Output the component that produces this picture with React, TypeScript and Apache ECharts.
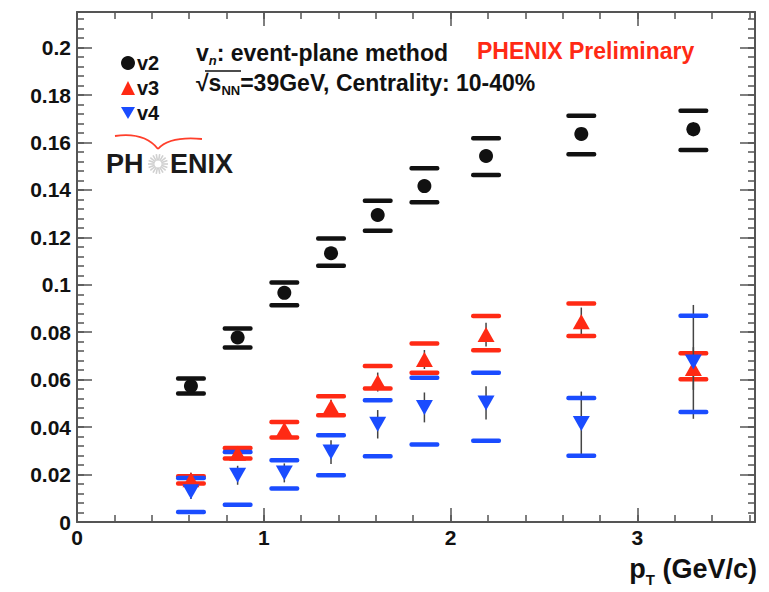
import React, { useEffect, useRef } from 'react';
import * as echarts from 'echarts';

// ---- data ----
const ptValues = [0.61, 0.86, 1.11, 1.36, 1.61, 1.86, 2.19, 2.7, 3.3];

const v2Values = [0.0573, 0.0778, 0.0966, 0.1133, 0.1294, 0.1416, 0.1543, 0.1636, 0.1656];
const v2SysLow = [0.0542, 0.0736, 0.0914, 0.108, 0.1228, 0.1348, 0.1463, 0.155, 0.1568];
const v2SysHigh = [0.0605, 0.0816, 0.101, 0.1195, 0.1354, 0.1491, 0.1618, 0.1713, 0.1734];
const v2Stat = [0.0015, 0.0015, 0.0015, 0.0015, 0.0015, 0.002, 0.002, 0.002, 0.003];

const v3Values = [0.0178, 0.029, 0.039, 0.0485, 0.059, 0.0685, 0.079, 0.0844, 0.0647];
const v3SysLow = [0.0162, 0.0268, 0.0356, 0.045, 0.0563, 0.0629, 0.0724, 0.0784, 0.0602];
const v3SysHigh = [0.0193, 0.0312, 0.0422, 0.053, 0.0658, 0.0753, 0.0868, 0.0921, 0.0711];
const v3Stat = [0.003, 0.003, 0.003, 0.003, 0.004, 0.004, 0.005, 0.006, 0.009];

const v4Values = [0.0127, 0.0197, 0.0207, 0.0295, 0.0412, 0.0483, 0.0502, 0.0415, 0.0675];
const v4SysLow = [0.0042, 0.0073, 0.0141, 0.0197, 0.0277, 0.0327, 0.0342, 0.0279, 0.0464];
const v4SysHigh = [0.0186, 0.0295, 0.026, 0.0366, 0.0513, 0.0608, 0.0629, 0.0523, 0.0869];
const v4Stat = [0.003, 0.004, 0.004, 0.005, 0.006, 0.0063, 0.007, 0.0135, 0.024];

const seriesNames = ['v2', 'v3', 'v4'];
const X_MIN = 0;
const X_MAX = 3.63;
const Y_MIN = 0;
const Y_MAX = 0.215;

const BLACK = '#111111';
const RED = '#ff2a14';
const BLUE = '#1a4cff';
const AXIS = '#555555';
const FONT = "'Liberation Sans', Arial, Helvetica, sans-serif";
const DOWN_TRI = 'path://M0,0L20,0L10,17.3Z';

function buildErr(vals: number[], lo: number[], hi: number[], stat: number[]) {
  return ptValues.map((x, i) => [x, vals[i], lo[i], hi[i], vals[i] - stat[i], vals[i] + stat[i]]);
}

function errSeries(name: string, color: string, data: number[][]) {
  return {
    type: 'custom',
    name,
    xAxisIndex: 0,
    yAxisIndex: 0,
    data,
    encode: { x: 0, y: 1 },
    renderItem: (_p: any, api: any) => {
      const x = api.value(0);
      const pLo = api.coord([x, api.value(2)]);
      const pHi = api.coord([x, api.value(3)]);
      const sLo = api.coord([x, api.value(4)]);
      const sHi = api.coord([x, api.value(5)]);
      const w = 30;
      const h = 4.5;
      return {
        type: 'group',
        children: [
          {
            type: 'line',
            shape: { x1: sLo[0], y1: sLo[1], x2: sHi[0], y2: sHi[1] },
            style: { stroke: '#444', lineWidth: 1.5 },
          },
          {
            type: 'rect',
            shape: { x: pLo[0] - w / 2, y: pLo[1] - h / 2, width: w, height: h, r: 2 },
            style: { fill: color },
          },
          {
            type: 'rect',
            shape: { x: pHi[0] - w / 2, y: pHi[1] - h / 2, width: w, height: h, r: 2 },
            style: { fill: color },
          },
        ],
      };
    },
    z: 2,
  };
}

function markerSeries(name: string, color: string, symbol: string, size: any, vals: number[]) {
  return {
    type: 'scatter',
    name,
    xAxisIndex: 0,
    yAxisIndex: 0,
    symbol,
    symbolSize: size,
    itemStyle: { color, opacity: 1 },
    data: ptValues.map((x, i) => [x, vals[i]]),
    z: 3,
  };
}

const fmt = (v: number) => String(+v.toFixed(3));

function makeXAxis(position: string, interval: number, len: number, main: boolean, labels: boolean) {
  return {
    type: 'value',
    min: X_MIN,
    max: X_MAX,
    interval,
    position,
    axisLine: { show: main, onZero: false, lineStyle: { color: AXIS, width: 2 } },
    axisTick: { show: true, inside: true, length: len, lineStyle: { color: AXIS, width: 1.5 } },
    axisLabel: labels
      ? { show: true, fontSize: 21, fontWeight: 'bold', fontFamily: FONT, color: BLACK, margin: 5, showMaxLabel: false, formatter: fmt }
      : { show: false },
    splitLine: { show: false },
  };
}

function makeYAxis(position: string, interval: number, len: number, main: boolean, labels: boolean) {
  return {
    type: 'value',
    min: Y_MIN,
    max: Y_MAX,
    interval,
    position,
    axisLine: { show: main, onZero: false, lineStyle: { color: AXIS, width: 2 } },
    axisTick: { show: true, inside: true, length: len, lineStyle: { color: AXIS, width: 1.5 } },
    axisLabel: labels
      ? { show: true, fontSize: 21, fontWeight: 'bold', fontFamily: FONT, color: BLACK, margin: 6, showMaxLabel: false, formatter: fmt }
      : { show: false },
    splitLine: { show: false },
  };
}

function sunburst(cx: number, cy: number) {
  const items: any[] = [];
  const n = 18;
  for (let k = 0; k < n; k++) {
    const a = (k / n) * Math.PI * 2;
    items.push({
      type: 'line',
      shape: { x1: cx + Math.cos(a) * 3.5, y1: cy + Math.sin(a) * 3.5, x2: cx + Math.cos(a) * 10, y2: cy + Math.sin(a) * 10 },
      style: { stroke: '#d0d0d0', lineWidth: 1.6 },
    });
  }
  return items;
}

export default function App() {
  const ref = useRef<HTMLDivElement>(null);
  useEffect(() => {
    if (!ref.current) return;
    const chart = echarts.init(ref.current, undefined, { renderer: 'svg' });
    const richMain = { fontSize: 23, fontWeight: 'bold', fontFamily: FONT, fill: BLACK, lineHeight: 26, verticalAlign: 'bottom' };
    const option: any = {
      animation: false,
      backgroundColor: '#ffffff',
      grid: { left: 77, top: 12, right: 14, bottom: 70, containLabel: false },
      xAxis: [
        makeXAxis('bottom', 1, 14, true, true),
        makeXAxis('bottom', 0.2, 7, false, false),
        makeXAxis('top', 1, 14, true, false),
        makeXAxis('top', 0.2, 7, false, false),
      ],
      yAxis: [
        makeYAxis('left', 0.02, 15, true, true),
        makeYAxis('left', 0.004, 7, false, false),
        makeYAxis('right', 0.02, 15, true, false),
        makeYAxis('right', 0.004, 7, false, false),
      ],
      legend: {
        orient: 'vertical',
        left: 116,
        top: 48,
        padding: 5,
        itemWidth: 14,
        itemHeight: 14,
        itemGap: 5,
        selectedMode: false,
        textStyle: { fontSize: 20, fontWeight: 'bold', fontFamily: FONT, color: BLACK, lineHeight: 14, padding: [2, 0, 0, -3] },
        data: [
          { name: seriesNames[0], icon: 'circle' },
          { name: seriesNames[1], icon: 'triangle' },
          { name: seriesNames[2], icon: DOWN_TRI },
        ],
      },
      series: [
        errSeries('v2 errors', BLACK, buildErr(v2Values, v2SysLow, v2SysHigh, v2Stat)),
        markerSeries(seriesNames[0], BLACK, 'circle', 14, v2Values),
        errSeries('v3 errors', RED, buildErr(v3Values, v3SysLow, v3SysHigh, v3Stat)),
        markerSeries(seriesNames[1], RED, 'triangle', [17, 15], v3Values),
        errSeries('v4 errors', BLUE, buildErr(v4Values, v4SysLow, v4SysHigh, v4Stat)),
        markerSeries(seriesNames[2], BLUE, DOWN_TRI, [17, 15], v4Values),
      ],
      graphic: [
        {
          type: 'text',
          x: 196,
          y: 51,
          style: {
            text: '{a|v}{s|n}{a|: event-plane method}',
            align: 'left',
            verticalAlign: 'middle',
            fontFamily: FONT,
            rich: {
              a: richMain,
              s: { fontSize: 13, fontWeight: 'bold', fontStyle: 'italic', fontFamily: FONT, fill: BLACK, lineHeight: 26, verticalAlign: 'bottom', padding: [0, 0, -3, 0] },
            },
          },
        },
        {
          type: 'text',
          x: 477,
          y: 51,
          style: { text: 'PHENIX Preliminary', align: 'left', verticalAlign: 'middle', fontSize: 23, fontWeight: 'bold', fontFamily: FONT, fill: RED },
        },
        {
          type: 'text',
          x: 196,
          y: 81,
          style: {
            text: '{a|√}{a|s}{s|NN}{a|=39GeV, Centrality: 10-40%}',
            align: 'left',
            verticalAlign: 'middle',
            fontFamily: FONT,
            rich: {
              a: richMain,
              s: { fontSize: 13, fontWeight: 'bold', fontFamily: FONT, fill: BLACK, lineHeight: 26, verticalAlign: 'bottom', padding: [0, 0, -3, 0] },
            },
          },
        },
        {
          type: 'line',
          shape: { x1: 205, y1: 71, x2: 241, y2: 71 },
          style: { stroke: BLACK, lineWidth: 1.3 },
        },
        // PHENIX logo
        {
          type: 'bezierCurve',
          shape: { x1: 115, y1: 136, cpx1: 136, cpy1: 133, cpx2: 150, cpy2: 139, x2: 158, y2: 149 },
          style: { stroke: RED, lineWidth: 1.8, fill: 'none', opacity: 0.9 },
        },
        {
          type: 'bezierCurve',
          shape: { x1: 158, y1: 149, cpx1: 166, cpy1: 140, cpx2: 180, cpy2: 137, x2: 202, y2: 139 },
          style: { stroke: RED, lineWidth: 1.8, fill: 'none', opacity: 0.9 },
        },
        {
          type: 'text',
          left: 106,
          top: 150,
          style: { text: 'PH', fontSize: 27, fontWeight: 'bold', fontFamily: FONT, fill: '#1a1a1a' },
        },
        {
          type: 'text',
          left: 170,
          top: 150,
          style: { text: 'ENIX', fontSize: 27, fontWeight: 'bold', fontFamily: FONT, fill: '#1a1a1a' },
        },
        ...sunburst(158, 164),
        // x-axis title
        {
          type: 'text',
          x: 757,
          y: 567,
          style: {
            text: '{a|p}{s|T}{a| (GeV/c)}',
            align: 'right',
            verticalAlign: 'middle',
            fontFamily: FONT,
            rich: {
              a: { fontSize: 27, fontWeight: 'bold', fontFamily: FONT, fill: BLACK, lineHeight: 30, verticalAlign: 'bottom' },
              s: { fontSize: 15, fontWeight: 'bold', fontFamily: FONT, fill: BLACK, lineHeight: 30, verticalAlign: 'bottom', padding: [0, 0, -5, 0] },
            },
          },
        },
      ],
    };
    chart.setOption(option);
    return () => chart.dispose();
  }, []);
  return (
    <div
      ref={ref}
      style={{ position: 'absolute', left: 0, top: 0, width: 769, height: 592, background: '#fff' }}
    />
  );
}
